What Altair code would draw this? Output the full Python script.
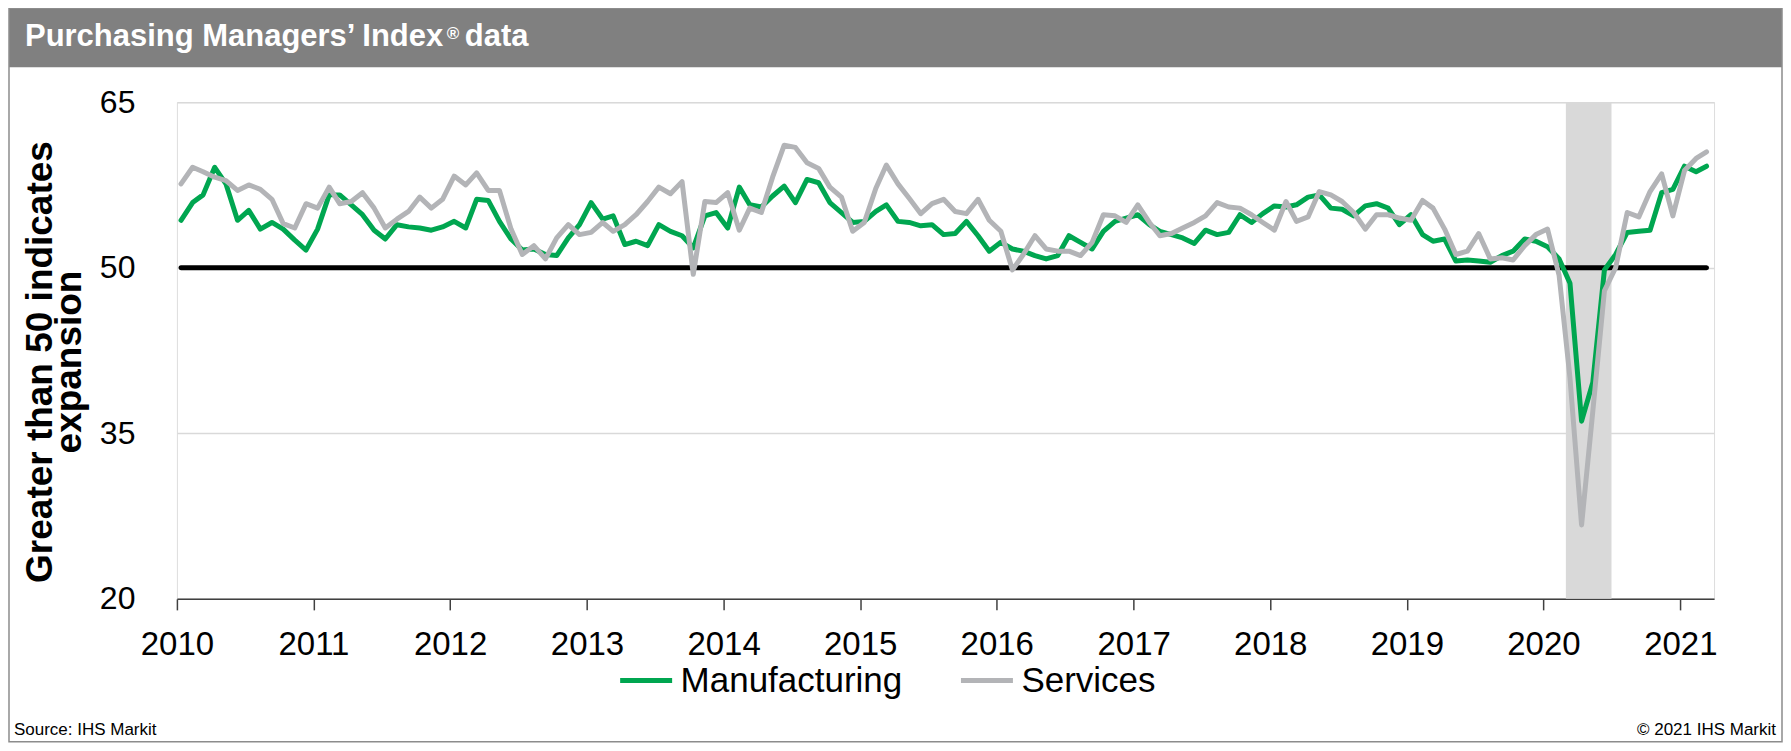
import altair as alt
import pandas as pd

# ---- data (monthly, Jan 2010 - Mar 2021) ----
manufacturing = [
    54.3, 55.9, 56.6, 59.1, 57.6, 54.3, 55.2, 53.5, 54.1, 53.5, 52.5, 51.6,  # 2010
    53.5, 56.6, 56.6, 55.7, 54.8, 53.4, 52.6, 53.9, 53.7, 53.6, 53.4, 53.7,  # 2011
    54.2, 53.6, 56.2, 56.1, 54.2, 52.6, 51.6, 51.7, 51.2, 51.1, 52.7, 53.9,  # 2012
    55.9, 54.4, 54.7, 52.1, 52.4, 52.0, 53.9, 53.3, 52.9, 51.8, 54.7, 55.0,  # 2013
    53.6, 57.3, 55.7, 55.5, 56.5, 57.4, 55.9, 58.0, 57.7, 55.9, 55.0, 54.1,  # 2014
    54.2, 55.1, 55.7, 54.2, 54.1, 53.8, 53.9, 53.0, 53.1, 54.2, 52.9, 51.5,  # 2015
    52.3, 51.7, 51.5, 51.1, 50.8, 51.1, 52.9, 52.3, 51.7, 53.3, 54.2, 54.5,  # 2016
    54.8, 53.9, 53.3, 53.0, 52.7, 52.2, 53.4, 53.0, 53.2, 54.8, 54.1, 54.9,  # 2017
    55.6, 55.5, 55.7, 56.4, 56.6, 55.4, 55.3, 54.7, 55.6, 55.8, 55.4, 53.9,  # 2018
    54.8, 53.0, 52.4, 52.6, 50.6, 50.7, 50.6, 50.5, 51.1, 51.5, 52.6, 52.4,  # 2019
    51.9, 50.8, 48.6, 36.1, 39.6, 49.8, 51.2, 53.2, 53.3, 53.4, 56.8, 57.1,  # 2020
    59.2, 58.7, 59.2,                                                        # 2021
]
services = [
    57.6, 59.1, 58.7, 58.2, 57.9, 57.0, 57.5, 57.1, 56.2, 54.0, 53.6, 55.8,  # 2010
    55.4, 57.3, 55.8, 56.0, 56.8, 55.4, 53.6, 54.4, 55.1, 56.4, 55.4, 56.2,  # 2011
    58.3, 57.5, 58.6, 57.0, 57.0, 53.5, 51.2, 52.0, 50.8, 52.7, 53.9, 53.0,  # 2012
    53.2, 54.1, 53.3, 53.9, 54.8, 56.0, 57.3, 56.7, 57.8, 49.4, 56.0, 55.9,  # 2013
    56.8, 53.4, 55.4, 55.0, 58.2, 61.1, 60.9, 59.5, 59.0, 57.3, 56.4, 53.3,  # 2014
    54.1, 57.2, 59.3, 57.6, 56.3, 54.9, 55.8, 56.2, 55.1, 54.9, 56.2, 54.3,  # 2015
    53.3, 49.8, 51.2, 52.9, 51.7, 51.5, 51.5, 51.1, 52.3, 54.8, 54.7, 54.1,  # 2016
    55.7, 54.1, 52.9, 53.1, 53.6, 54.1, 54.7, 55.9, 55.5, 55.4, 54.8, 54.1,  # 2017
    53.4, 56.0, 54.2, 54.6, 56.9, 56.6, 56.0, 55.0, 53.5, 54.8, 54.8, 54.5,  # 2018
    54.3, 56.1, 55.4, 53.5, 51.2, 51.5, 53.1, 50.8, 50.9, 50.7, 52.0, 53.0,  # 2019
    53.5, 49.3, 40.0, 26.7, 37.0, 47.9, 50.0, 55.0, 54.6, 56.9, 58.5, 54.7,  # 2020
    58.8, 59.9, 60.5,                                                        # 2021
]
series_names = ["Manufacturing", "Services"]
series_colors = ["#00A650", "#B3B4B7"]
y_ticks = [20, 35, 50, 65]
year_ticks = list(range(2010, 2022))
y_title_lines = ["Greater than 50 indicates", "expansion"]
shade_start = "2020-03-01T00:00:00"
shade_end = "2020-07-01T00:00:00"
threshold = 50

dates = pd.date_range("2010-01-01", periods=len(manufacturing), freq="MS") + pd.Timedelta(days=11)
df = pd.concat([
    pd.DataFrame({"date": dates, "value": manufacturing, "series": series_names[0]}),
    pd.DataFrame({"date": dates, "value": services, "series": series_names[1]}),
])
shade_df = pd.DataFrame({"start": [shade_start], "end": [shade_end], "lo": [y_ticks[0]], "hi": [y_ticks[-1]]})
rule_df = pd.DataFrame({"start": [dates[0]], "end": [dates[-1]], "y": [threshold]})

FONT = "Liberation Sans"
W, H = 1538, 497

x_scale = alt.Scale(domain=[alt.DateTime(year=2010, month=1, date=1),
                            alt.DateTime(year=2021, month=4, date=1)])
y_scale = alt.Scale(domain=[y_ticks[0], y_ticks[-1]], nice=False, zero=False)

one = alt.Data(values=[{}])

header = alt.Chart(one).mark_rect(color="#808080").encode(
    x=alt.value(-168), x2=alt.value(W + 68), y=alt.value(-94), y2=alt.value(-35))
border = alt.Chart(one).mark_rect(filled=False, stroke="#8C8C8C", strokeWidth=1.5).encode(
    x=alt.value(-168), x2=alt.value(W + 68), y=alt.value(-94), y2=alt.value(H + 143))
t1 = alt.Chart(one).mark_text(text="Purchasing Managers’ Index", font=FONT, fontSize=31,
                              fontWeight="bold", color="white", align="left", baseline="alphabetic").encode(
    x=alt.value(-152), y=alt.value(-56))
t2 = alt.Chart(one).mark_text(text="®", font=FONT, fontSize=17, fontWeight="bold", color="white",
                              align="left", baseline="alphabetic").encode(
    x=alt.value(270), y=alt.value(-63))
t3 = alt.Chart(one).mark_text(text="data", font=FONT, fontSize=31, fontWeight="bold", color="white",
                              align="left", baseline="alphabetic").encode(
    x=alt.value(288), y=alt.value(-56))
src = alt.Chart(one).mark_text(text="Source: IHS Markit", font=FONT, fontSize=17, color="black",
                               align="left", baseline="alphabetic").encode(
    x=alt.value(-163), y=alt.value(633))
cpy = alt.Chart(one).mark_text(text="© 2021 IHS Markit", font=FONT, fontSize=17, color="black",
                               align="right", baseline="alphabetic").encode(
    x=alt.value(W + 62), y=alt.value(633))
yt1 = alt.Chart(one).mark_text(text=y_title_lines[0], font=FONT, fontSize=37, fontWeight="bold",
                               color="black", angle=270, align="center", baseline="middle").encode(
    x=alt.value(-136), y=alt.value(260))
yt2 = alt.Chart(one).mark_text(text=y_title_lines[1], font=FONT, fontSize=37, fontWeight="bold",
                               color="black", angle=270, align="center", baseline="middle").encode(
    x=alt.value(-107), y=alt.value(260))

shade = alt.Chart(shade_df).mark_rect(color="#D9D9D9").encode(
    x=alt.X("start:T", scale=x_scale), x2="end:T",
    y=alt.Y("lo:Q", scale=y_scale), y2="hi:Q")

rule = alt.Chart(rule_df).mark_rule(color="black", strokeWidth=5, strokeCap="round").encode(
    x=alt.X("start:T", scale=x_scale), x2="end:T", y=alt.Y("y:Q", scale=y_scale))

lines = alt.Chart(df).mark_line(strokeWidth=5, strokeJoin="round", strokeCap="round").encode(
    x=alt.X("date:T", scale=x_scale,
            axis=alt.Axis(values=[alt.DateTime(year=y, month=1, date=1) for y in year_ticks],
                          format="%Y", title=None, labelFontSize=33, labelFont=FONT,
                          labelColor="black", labelPadding=19, tickSize=11, tickColor="#404040",
                          tickWidth=1.5, domainColor="#404040", domainWidth=1.5, grid=False,
                          labelFlush=False, labelOverlap=False)),
    y=alt.Y("value:Q", scale=y_scale,
            axis=alt.Axis(values=y_ticks, title=None,
                          labelFontSize=32, labelFont=FONT, labelColor="black",
                          labelPadding=42, ticks=False, domain=False, grid=True,
                          gridColor="#D9D9D9", gridWidth=1.5)),
    color=alt.Color("series:N", scale=alt.Scale(domain=series_names, range=series_colors),
                    legend=alt.Legend(title=None, orient="none", legendX=441, legendY=550,
                                      direction="horizontal", symbolType="stroke",
                                      symbolSize=2704, symbolStrokeWidth=5,
                                      labelFontSize=35, labelFont=FONT, labelColor="black",
                                      labelLimit=0, labelOffset=6, columnPadding=48)),
)

chart = alt.layer(header, border, t1, t2, t3, src, cpy, yt1, yt2, shade, rule, lines).properties(
    width=W, height=H,
    autosize=alt.AutoSizeParams(type="none"),
    padding={"left": 169, "top": 94, "right": 69, "bottom": 145},
).configure_view(stroke=None).configure(font=FONT)

chart.save("out.html", embed_options={"renderer": "svg", "actions": False})
